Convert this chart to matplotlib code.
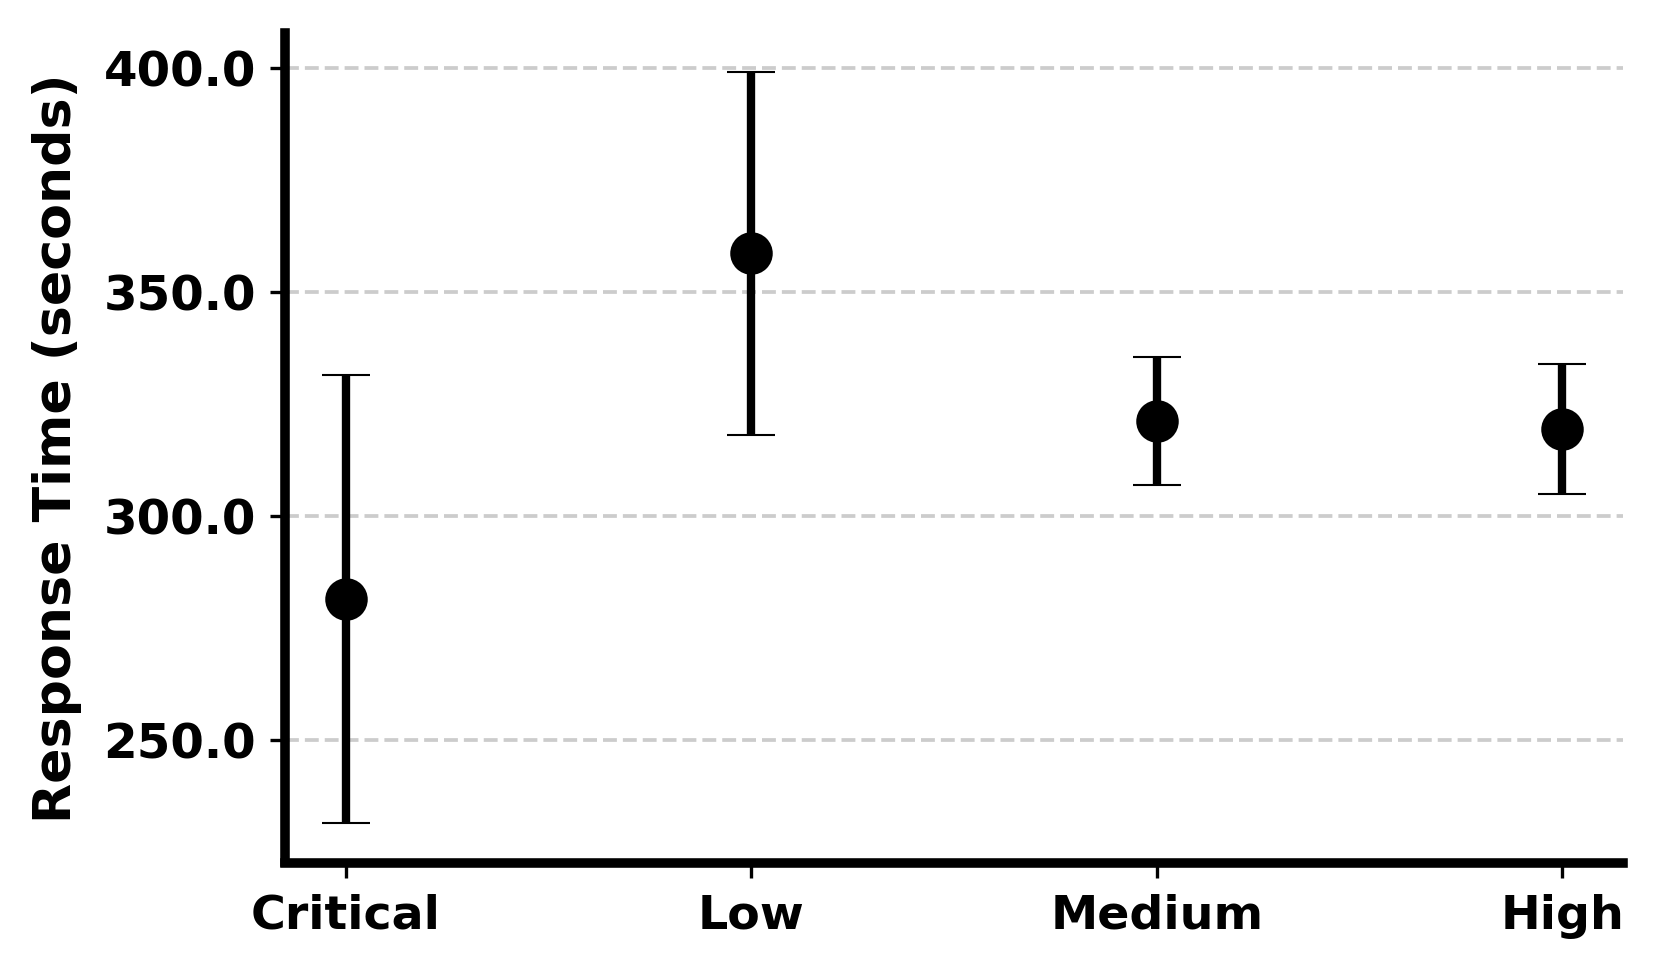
import matplotlib
matplotlib.use("Agg")
import matplotlib.pyplot as plt
import numpy as np

categories = ["Critical", "Low", "Medium", "High"]
means = [281.4, 358.7, 321.3, 319.5]
errors = [50.0, 40.6, 14.3, 14.5]
yticks = [250.0, 300.0, 350.0, 400.0]

plt.rcParams['font.family'] = ['DejaVu Sans']

fig = plt.figure(figsize=(1658 / 300, 976 / 300), dpi=300)
ax = fig.add_axes([285 / 1658, 1 - 862.5 / 976, (1623 - 285) / 1658, (862.5 - 33.5) / 976])

x = np.arange(len(categories))
ax.errorbar(x, means, yerr=errors, fmt='o', color='black', ecolor='black',
            elinewidth=2.0, capsize=5.7, capthick=1.6, markersize=9.7,
            markeredgewidth=0.5, zorder=3)

ax.set_xlim(-0.15, 3.15)
ax.set_ylim(222.6, 407.8)
ax.set_xticks(x)
ax.set_xticklabels(categories, fontsize=11.4, fontweight='bold')
ax.tick_params(axis='x', pad=4.0)
ax.set_yticks(yticks)
ax.set_yticklabels([f"{v:.1f}" for v in yticks], fontsize=11.6, fontweight='bold')
ax.set_ylabel("Response Time (seconds)", fontsize=12.5, fontweight='bold', labelpad=5)

ax.yaxis.grid(True, linestyle='--', color='#cccccc', linewidth=0.9)
ax.set_axisbelow(True)

for s in ['top', 'right']:
    ax.spines[s].set_visible(False)
for s in ['left', 'bottom']:
    ax.spines[s].set_linewidth(2.3)

fig.savefig("out.png", dpi=300)
